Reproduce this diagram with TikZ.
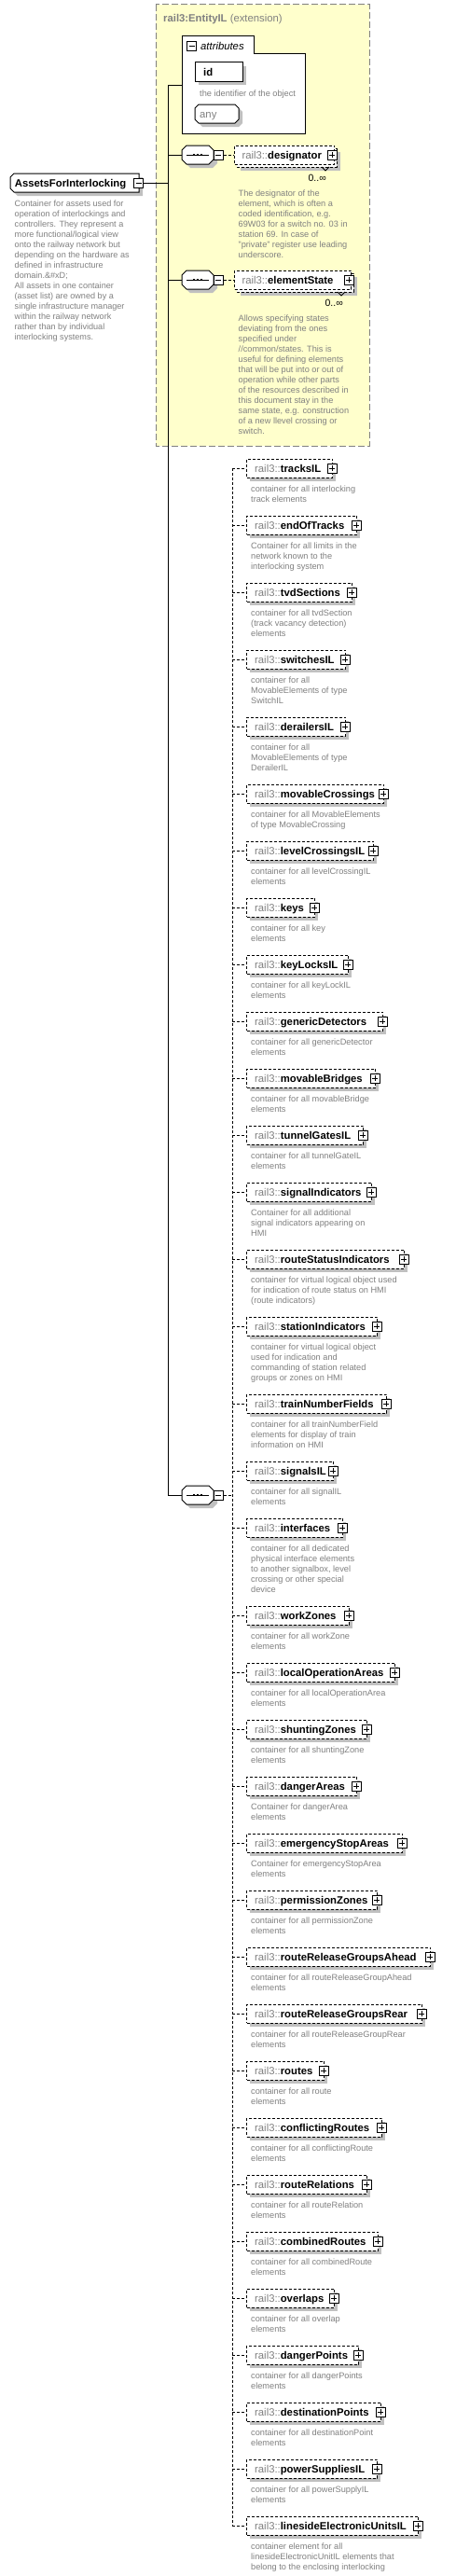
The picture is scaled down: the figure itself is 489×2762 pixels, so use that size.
\documentclass[tikz,border=0pt]{standalone}
\usepackage{fontspec}
\setmainfont{Liberation Sans}
\definecolor{ylw}{RGB}{255,255,204}
\definecolor{shd}{RGB}{192,192,192}
\definecolor{txtgray}{RGB}{128,128,128}
\definecolor{descgray}{RGB}{128,128,128}
\definecolor{framegray}{RGB}{128,128,128}
\tikzset{
  namefont/.style={font=\fontsize{11.3}{13}\selectfont},
  descnode/.style={anchor=base west, inner sep=0pt, text=descgray, font=\fontsize{9.2}{11}\selectfont},
  dbox/.style={draw=black, fill=white, dash pattern=on 3pt off 2pt, line width=1pt, rectangle, inner sep=0pt},
  pmbox/.style={draw=black, fill=white, line width=1pt, minimum size=10pt, inner sep=0pt, rectangle},
  dconn/.style={dash pattern=on 3pt off 2pt, line width=1pt},
  sconn/.style={line width=1pt},
  solidshape/.style={draw=black, fill=white, line width=1pt},
}
\newcommand{\pmplus}[3]{%
  \node[pmbox] (#1) at (#2,#3) {};
  \draw[line width=1pt] (#2-3,#3) -- (#2+3,#3) (#2,#3-3) -- (#2,#3+3);
}
\newcommand{\pmminus}[3]{%
  \node[pmbox] (#1) at (#2,#3) {};
  \draw[line width=1pt] (#2-3,#3) -- (#2+3,#3);
}
\newcommand{\elemrow}[4]{%
  \fill[shd] (268,#2-6) rectangle (#3+4,#2+14);
  \node[dbox, anchor=west, minimum width={#3pt-264pt}, minimum height=20pt] (e#2) at (264,#2) {};
  \node[anchor=base west, inner sep=0pt, namefont] (t#2) at (273,#2+4.5) {\textcolor{txtgray}{rail3::}\textbf{#1}};
  \pmplus{p#2}{#3}{#2}
  \node[descnode] (d#2) at (269,#2+25) {\begin{tabular}[t]{@{}l@{}}#4\end{tabular}};
  \coordinate (s#2) at (249,#2);
  \draw[dconn] (s#2) -- (e#2.west);
}
\newcommand{\seqcomp}[2]{%
  \fill[shd] (204,#2-6) -- (228,#2-6) -- (233,#2-1) -- (233,#2+9) -- (228,#2+14) -- (204,#2+14) -- (199,#2+9) -- (199,#2-1) -- cycle;
  \node[inner sep=0pt, minimum width=34pt, minimum height=20pt] (#1) at (212,#2) {};
  \draw[solidshape] (200,#2-10) -- (224,#2-10) -- (229,#2-5) -- (229,#2+5) -- (224,#2+10) -- (200,#2+10) -- (195,#2+5) -- (195,#2-5) -- cycle;
  \draw[line width=1pt] (200,#2) -- (224,#2);
  \fill (206.7,#2-1.4) rectangle (209.3,#2+1.4);
  \fill (210.7,#2-1.4) rectangle (213.3,#2+1.4);
  \fill (214.7,#2-1.4) rectangle (217.3,#2+1.4);
  \pmminus{#1m}{234}{#2}
}
\newcommand{\multelem}[4]{%
  \fill[shd] (258,#2-3) rectangle (#3+7,#2+17);
  \draw[dbox] (254,#2-7) rectangle (#3+3,#2+13);
  \node[dbox, anchor=west, minimum width={#3pt-251pt}, minimum height=20pt] (#1) at (251,#2) {};
  \draw[line width=1pt] (#4-4,#2+13) -- (#4,#2+17) -- (#4+4,#2+13);
  \node[anchor=base west, inner sep=0pt, namefont] (#1t) at (259.3,#2+4.5) {\textcolor{txtgray}{rail3::}\textbf{#1}};
  \pmplus{#1p}{#3-2}{#2}
}
\begin{document}
\begin{tikzpicture}[x=1pt,y=-1pt]
\useasboundingbox (0,0) rectangle (489,2762);
\fill[white] (0,0) rectangle (489,2762);
% extension box
\draw[fill=ylw, draw=framegray, line width=1pt, dash pattern=on 7pt off 3pt] (167,5) rectangle (396,478);
\node[anchor=base west, inner sep=0pt, namefont, text=txtgray] (ext) at (175,24) {\textbf{rail3:EntityIL} (extension)};
% attributes
\draw[solidshape] (195,39) -- (272,39) -- (272,58) -- (327,58) -- (327,143) -- (195,143) -- cycle;
\node[inner sep=0pt, minimum width=132pt, minimum height=104pt] (attr) at (261,91) {};
\pmminus{attrm}{205.5}{50}
\node[anchor=base west, inner sep=0pt, namefont] (attrt) at (215,54) {\itshape attributes};
% id
\fill[shd] (213,71) rectangle (264,91);
\node[draw=black, fill=white, line width=1pt, inner sep=0pt, minimum width=51pt, minimum height=20pt] (id) at (234.5,77) {};
\node[anchor=base west, inner sep=0pt, namefont] (idt) at (218,81.7) {\textbf{id}};
\node[descnode] (iddesc) at (214,103) {the identifier of the object};
% any
\fill[shd] (217,116) -- (256,116) -- (260,120) -- (260,132) -- (256,136) -- (217,136) -- (213,132) -- (213,120) -- cycle;
\node[inner sep=0pt, minimum width=47pt, minimum height=20pt] (any) at (232.5,122) {};
\draw[solidshape] (213,112) -- (252,112) -- (256,116) -- (256,128) -- (252,132) -- (213,132) -- (209,128) -- (209,116) -- cycle;
\node[anchor=base west, inner sep=0pt, namefont, text=txtgray] (anyt) at (214,126.7) {any};
% root element
\fill[shd] (19,190) -- (153,190) -- (153,210) -- (19,210) -- (15,206) -- (15,194) -- cycle;
\node[inner sep=0pt, minimum width=138pt, minimum height=20pt] (root) at (80,196) {};
\draw[solidshape] (15,186) -- (149,186) -- (149,206) -- (15,206) -- (11,202) -- (11,190) -- cycle;
\node[anchor=base west, inner sep=0pt, namefont] (roott) at (15.7,200) {\textbf{AssetsForInterlocking}};
\pmminus{rootm}{148.5}{196}
\node[anchor=base west, inner sep=0pt, text=descgray, font=\fontsize{9.1}{11}\selectfont] (rootdesc) at (15.5,221.5) {\begin{tabular}[t]{@{}l@{}}Container for assets used for\\operation of interlockings and\\controllers. They represent a\\more functional/logical view\\onto the railway network but\\depending on the hardware as\\defined in infrastructure\\domain.\&\#xD;\\All assets in one container\\(asset list) are owned by a\\single infrastructure manager\\within the railway network\\rather than by individual\\interlocking systems.\end{tabular}};
% compositors
\seqcomp{cA}{166}
\seqcomp{cB}{300}
\seqcomp{cC}{1603}
% main connectors
\coordinate (vtop) at (180,91);
\coordinate (vroot) at (180,196);
\coordinate (vbot) at (180,1603);
\draw[sconn] (attr.west) -- (vtop) -- (vbot) -- (cC.west);
\draw[sconn] (rootm.east) -- (vroot);
\draw[sconn] (vtop |- cA.west) -- (cA.west);
\draw[sconn] (vtop |- cB.west) -- (cB.west);
% designator / elementState
\multelem{designator}{166}{358}{349}
\draw[dconn] (cAm.east) -- (designator.west);
\node[anchor=base east, inner sep=0pt, font=\fontsize{10.5}{12}\selectfont] (dmult) at (350,194) {0..∞};
\node[descnode] (ddesc) at (255.5,210) {\begin{tabular}[t]{@{}l@{}}The designator of the\\element, which is often a\\coded identification, e.g.\\69W03 for a switch no. 03 in\\station 69. In case of\\"private" register use leading\\underscore.\end{tabular}};
\multelem{elementState}{300}{376}{366}
\draw[dconn] (cBm.east) -- (elementState.west);
\node[anchor=base east, inner sep=0pt, font=\fontsize{10.5}{12}\selectfont] (emult) at (368,328) {0..∞};
\node[descnode] (edesc) at (255.5,344) {\begin{tabular}[t]{@{}l@{}}Allows specifying states\\deviating from the ones\\specified under\\//common/states. This is\\useful for defining elements\\that will be put into or out of\\operation while other parts\\of the resources described in\\this document stay in the\\same state, e.g. construction\\of a new llevel crossing or\\switch.\end{tabular}};
% list of elements
\coordinate (ltop) at (249,502);
\coordinate (lbot) at (249,2708);
\coordinate (lmid) at (249,1603);
\draw[dconn] (ltop) -- (lbot);
\draw[dconn] (cCm.east) -- (lmid);
\elemrow{tracksIL}{502}{356}{container for all interlocking\\track elements}
\elemrow{endOfTracks}{563}{382}{Container for all limits in the\\network known to the\\interlocking system}
\elemrow{tvdSections}{635}{377}{container for all tvdSection\\(track vacancy detection)\\elements}
\elemrow{switchesIL}{707}{370}{container for all\\MovableElements of type\\SwitchIL}
\elemrow{derailersIL}{779}{370}{container for all\\MovableElements of type\\DerailerIL}
\elemrow{movableCrossings}{851}{411}{container for all MovableElements\\of type MovableCrossing}
\elemrow{levelCrossingsIL}{912}{400}{container for all levelCrossingIL\\elements}
\elemrow{keys}{973}{337}{container for all key\\elements}
\elemrow{keyLocksIL}{1034}{373}{container for all keyLockIL\\elements}
\elemrow{genericDetectors}{1095}{410}{container for all genericDetector\\elements}
\elemrow{movableBridges}{1156}{402}{container for all movableBridge\\elements}
\elemrow{tunnelGatesIL}{1217}{389}{container for all tunnelGateIL\\elements}
\elemrow{signalIndicators}{1278}{398}{Container for all additional\\signal indicators appearing on\\HMI}
\elemrow{routeStatusIndicators}{1350}{433}{container for virtual logical object used\\for indication of route status on HMI\\(route indicators)}
\elemrow{stationIndicators}{1422}{404}{container for virtual logical object\\used for indication and\\commanding of station related\\groups or zones on HMI}
\elemrow{trainNumberFields}{1505}{414}{container for all trainNumberField\\elements for display of train\\information on HMI}
\elemrow{signalsIL}{1577}{357}{container for all signalIL\\elements}
\elemrow{interfaces}{1638}{367}{container for all dedicated\\physical interface elements\\to another signalbox, level\\crossing or other special\\device}
\elemrow{workZones}{1732}{374}{container for all workZone\\elements}
\elemrow{localOperationAreas}{1793}{423}{container for all localOperationArea\\elements}
\elemrow{shuntingZones}{1854}{393}{container for all shuntingZone\\elements}
\elemrow{dangerAreas}{1915}{382}{Container for dangerArea\\elements}
\elemrow{emergencyStopAreas}{1976}{431}{Container for emergencyStopArea\\elements}
\elemrow{permissionZones}{2037}{404}{container for all permissionZone\\elements}
\elemrow{routeReleaseGroupsAhead}{2098}{461}{container for all routeReleaseGroupAhead\\elements}
\elemrow{routeReleaseGroupsRear}{2159}{452}{container for all routeReleaseGroupRear\\elements}
\elemrow{routes}{2220}{347}{container for all route\\elements}
\elemrow{conflictingRoutes}{2281}{409}{container for all conflictingRoute\\elements}
\elemrow{routeRelations}{2342}{393}{container for all routeRelation\\elements}
\elemrow{combinedRoutes}{2403}{405}{container for all combinedRoute\\elements}
\elemrow{overlaps}{2464}{358}{container for all overlap\\elements}
\elemrow{dangerPoints}{2525}{384}{container for all dangerPoints\\elements}
\elemrow{destinationPoints}{2586}{408}{container for all destinationPoint\\elements}
\elemrow{powerSuppliesIL}{2647}{404}{container for all powerSupplyIL\\elements}
\elemrow{linesideElectronicUnitsIL}{2708}{448}{container element for all\\linesideElectronicUnitIL elements that\\belong to the enclosing interlocking}
\end{tikzpicture}
\end{document}
